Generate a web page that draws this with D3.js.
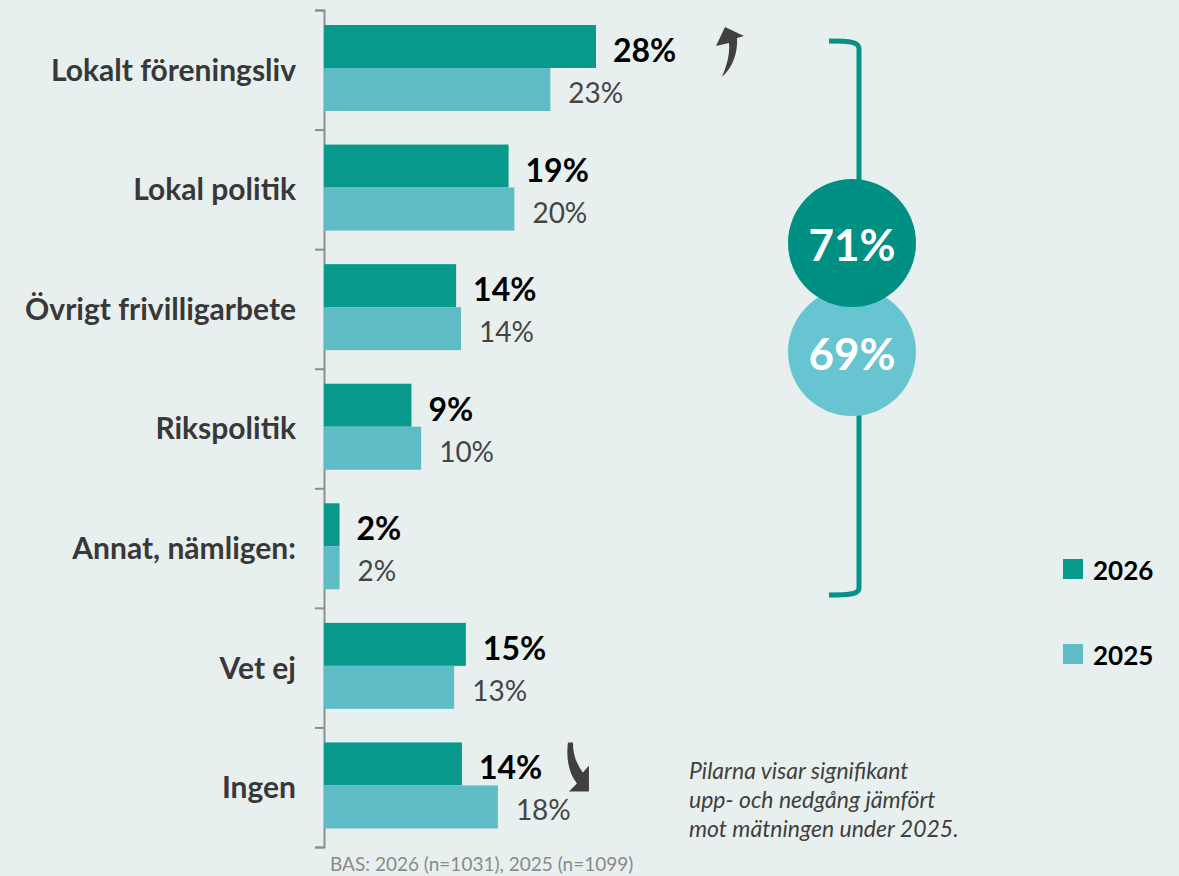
<!DOCTYPE html>
<html>
<head>
<meta charset="utf-8">
<script src="https://cdn.jsdelivr.net/npm/d3@7"></script>
<style>
  html, body { margin: 0; padding: 0; background: #e8f0ef; }
  svg { display: block; font-family: Lato, "Open Sans", sans-serif; }
</style>
</head>
<body>
<div id="chart"></div>
<script>
// ---------------------- data ----------------------
var categories = ["Lokalt föreningsliv", "Lokal politik", "Övrigt frivilligarbete",
                  "Rikspolitik", "Annat, nämligen:", "Vet ej", "Ingen"];
var series = ["2026", "2025"];
var values2026 = [28.0, 19.0, 13.6, 9.0, 1.6, 14.6, 14.2];
var values2025 = [23.3, 19.6, 14.1, 10.0, 1.6, 13.4, 17.9];
var trend = ["up", null, null, null, null, null, "down"];   // significant change vs 2025
var totals = [71, 69];                                      // bracket: first five categories
var baseText = "BAS: 2026 (n=1031), 2025 (n=1099)";
var noteLines = ["Pilarna visar signifikant", "upp- och nedgång jämfört", "mot mätningen under 2025."];

var colors = { "2026": "#06998c", "2025": "#5fbcc6" };
var circleColors = ["#008f83", "#66c5d0"];

// ---------------------- svg ----------------------
var svg = d3.select("#chart")
     .append("svg")
     .attr("width", 1179)
     .attr("height", 876);

svg.append("rect")
     .attr("width", 1179)
     .attr("height", 876)
     .attr("fill", "#e8f0ef");

var x = d3.scaleLinear().domain([0, 28]).range([324, 596]);
var y = d3.scaleBand().domain(categories).range([10, 847]);
var yIdx = d3.scaleLinear().domain([0, categories.length]).range([10, 847]);
var ySub = d3.scaleBand().domain(series).range([15, 101]);

var rows = categories.map(function (c, i) {
     return { cat: c, v2026: values2026[i], v2025: values2025[i], trend: trend[i] };
});

// ---------------------- axis ----------------------
var axis = svg.append("g")
     .attr("transform", "translate(324,0)")
     .call(d3.axisLeft(yIdx)
          .tickValues(d3.range(categories.length + 1))
          .tickSize(9)
          .tickFormat(""));
axis.selectAll("path, line")
     .attr("stroke", "#8e8e8e")
     .attr("stroke-width", 2);

// ---------------------- bars ----------------------
var group = svg.selectAll("g.row")
     .data(rows)
     .enter()
     .append("g")
     .attr("class", "row")
     .attr("transform", function (d) { return "translate(0," + y(d.cat) + ")"; });

group.append("rect")
     .attr("x", x(0))
     .attr("y", ySub("2026"))
     .attr("width", function (d) { return x(d.v2026) - x(0); })
     .attr("height", ySub.bandwidth())
     .attr("fill", colors["2026"]);

group.append("rect")
     .attr("x", x(0))
     .attr("y", ySub("2025"))
     .attr("width", function (d) { return x(d.v2025) - x(0); })
     .attr("height", ySub.bandwidth())
     .attr("fill", colors["2025"]);

group.append("text")
     .attr("x", function (d) { return x(d.v2026) + 17; })
     .attr("y", ySub("2026") + 37)
     .style("font-size", "32px")
     .style("font-weight", "bold")
     .attr("fill", "#000")
     .text(function (d) { return Math.round(d.v2026) + "%"; });

group.append("text")
     .attr("x", function (d) { return x(d.v2025) + 18; })
     .attr("y", ySub("2025") + 35)
     .style("font-size", "28px")
     .attr("fill", "#454545")
     .text(function (d) { return Math.round(d.v2025) + "%"; });

// category labels
group.append("text")
     .attr("x", 296)
     .attr("y", y.bandwidth() / 2 + 11)
     .attr("text-anchor", "end")
     .style("font-size", "30px")
     .style("font-weight", "bold")
     .attr("fill", "#383838")
     .text(function (d) { return d.cat; });

// ---------------------- arrows ----------------------
var upPath = "M9,0 L28,9 L21,11 C22,25 17,40 6,50 C11,38 14,27 13,16 L0,19 Z";
var downPath = "M2,1 L7,1 C7,14 11,23 17,31 L23,24 L23,50 L3,50 L11,42 C3,32 0,18 2,1 Z";

group.filter(function (d) { return d.trend; })
     .append("path")
     .attr("d", function (d) { return d.trend === "up" ? upPath : downPath; })
     .attr("transform", function (d) {
          return d.trend === "up"
               ? "translate(" + (x(d.v2026) + 120) + ",17)"
               : "translate(" + (x(d.v2026) + 104) + ",14)";
     })
     .attr("fill", "#404040");

// ---------------------- bracket + totals ----------------------
svg.append("path")
     .attr("d", "M829,41 C851,41 859,42 859,49 L859,588 C859,594 851,595 829,595")
     .attr("fill", "none")
     .attr("stroke", "#079185")
     .attr("stroke-width", 5);

var circles = svg.selectAll("g.total")
     .data(totals)
     .enter()
     .append("g")
     .attr("class", "total")
     .attr("transform", function (d, i) { return "translate(852," + (243 + i * 109) + ")"; });

// draw light circle under dark one
circles.sort(function (a, b) { return a - b; });
circles.append("circle")
     .attr("r", 64)
     .attr("fill", function (d) { return circleColors[totals.indexOf(d)]; });
circles.append("text")
     .attr("text-anchor", "middle")
     .attr("y", 18)
     .style("font-size", "44px")
     .style("font-weight", "bold")
     .attr("fill", "#fff")
     .text(function (d) { return d + "%"; });

// ---------------------- legend ----------------------
var legend = svg.selectAll("g.legend")
     .data(series)
     .enter()
     .append("g")
     .attr("class", "legend")
     .attr("transform", function (d, i) { return "translate(1063," + (559 + i * 85) + ")"; });

legend.append("rect")
     .attr("width", 20)
     .attr("height", 20)
     .attr("fill", function (d) { return colors[d]; });

legend.append("text")
     .attr("x", 30)
     .attr("y", 21)
     .style("font-size", "26px")
     .style("font-weight", "bold")
     .attr("fill", "#000")
     .text(function (d) { return d; });

// ---------------------- notes ----------------------
svg.append("text")
     .attr("x", 689)
     .attr("y", 779)
     .style("font-size", "23px")
     .style("font-style", "italic")
     .attr("fill", "#404040")
     .selectAll("tspan")
     .data(noteLines)
     .enter()
     .append("tspan")
     .attr("x", 689)
     .attr("dy", function (d, i) { return i === 0 ? 0 : 29; })
     .text(function (d) { return d; });

svg.append("text")
     .attr("x", 330)
     .attr("y", 871)
     .style("font-size", "19px")
     .attr("fill", "#8a8a8a")
     .text(baseText);
</script>
</body>
</html>
